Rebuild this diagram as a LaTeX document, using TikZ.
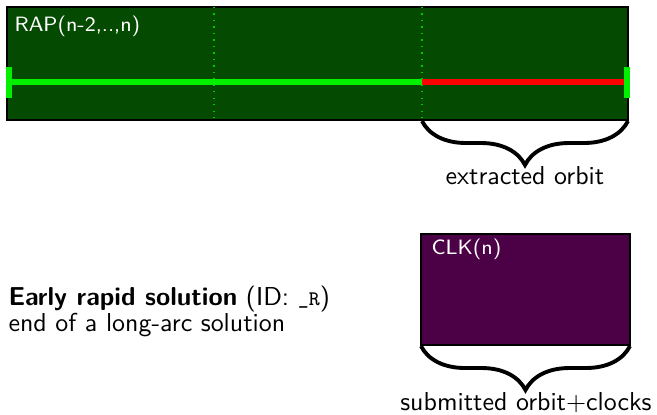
\documentclass[tikz,border=0pt]{standalone}
\usetikzlibrary{decorations.pathreplacing}
\definecolor{rapgreen}{RGB}{4,74,0}
\definecolor{clkpurple}{RGB}{76,0,70}
\definecolor{brightgreen}{RGB}{0,240,0}
\definecolor{dotgreen}{RGB}{0,200,0}
\begin{document}
\begin{tikzpicture}[x=0.386pt,y=-0.386pt,font=\sffamily,
  panel/.style={draw=black,line width=0.4pt},
  boxlabel/.style={anchor=base west,inner sep=0pt,text=white,font=\sffamily\footnotesize},
  caption/.style={anchor=base,inner sep=0pt},
  bracestyle/.style={decorate,decoration={brace,amplitude=17pt},line width=1.5pt},
  sep/.style={dotted,dotgreen,line width=0.5pt},
  arcline/.style={line width=2pt},
  tick/.style={brightgreen,line width=2pt}]
\useasboundingbox (0,0) rectangle (657,415);
% RAP panel
\coordinate (r1) at (7,7);
\coordinate (r2) at (628,120);
\fill[rapgreen] (r1) rectangle (r2);
\draw[panel] (r1) rectangle (r2);
\coordinate (d1t) at (214,7); \coordinate (d1b) at (214,120);
\coordinate (d2t) at (422,7); \coordinate (d2b) at (422,120);
\draw[sep] (d1t) -- (d1b);
\draw[sep] (d2t) -- (d2b);
\coordinate (aL) at (9,82);
\coordinate (aM) at (422,82);
\coordinate (aR) at (627,82);
\draw[arcline,brightgreen] (aL) -- (aM);
\draw[arcline,red] (aM) -- (aR);
\coordinate (tL1) at (9,67); \coordinate (tL2) at (9,98);
\coordinate (tR1) at (627,67); \coordinate (tR2) at (627,98);
\draw[tick] (tL1) -- (tL2);
\draw[tick] (tR1) -- (tR2);
\node[boxlabel] (rap) at (14,32) {RAP(n-2,..,n)};
% brace 1
\coordinate (b1r) at (628,121);
\coordinate (b1l) at (422,121);
\draw[bracestyle] (b1r) -- (b1l);
\node[caption] (extr) at (525,185) {extracted orbit};
% CLK panel
\coordinate (c1) at (421,234);
\coordinate (c2) at (630,345);
\fill[clkpurple] (c1) rectangle (c2);
\draw[panel] (c1) rectangle (c2);
\node[boxlabel] (clk) at (431,255) {CLK(n)};
\coordinate (b2r) at (630,346);
\coordinate (b2l) at (421,346);
\draw[bracestyle] (b2r) -- (b2l);
\node[caption] (subm) at (526,411) {submitted orbit+clocks};
% left text
\node[anchor=base west,inner sep=0pt] (t1) at (8,306) {\textbf{Early rapid solution} (ID: \texttt{\footnotesize\_R})};
\node[anchor=base west,inner sep=0pt] (t2) at (8,332) {end of a long-arc solution};
\end{tikzpicture}
\end{document}
